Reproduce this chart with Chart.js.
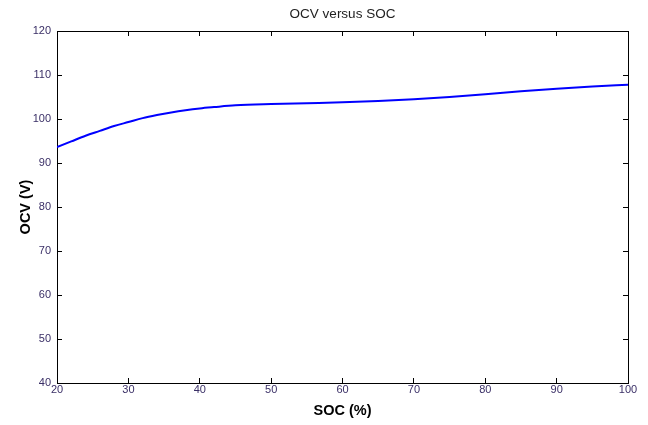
<!DOCTYPE html>
<html>
<head>
<meta charset="utf-8">
<script src="https://cdn.jsdelivr.net/npm/chart.js@4"></script>
<style>
  html, body { margin: 0; padding: 0; background: #fff; }
  #wrap { width: 648px; height: 425px; }
</style>
</head>
<body>
<div id="wrap"><canvas id="ocvChart" width="648" height="425"></canvas></div>
<script>
// state of charge (%) and open circuit voltage (V)
const soc = [20, 22, 24, 26, 28, 30, 32, 34, 36, 38, 40, 42, 45, 50, 55, 60, 65, 70, 75, 80, 85, 90, 95, 100];
const ocv = [93.6, 94.9, 96.2, 97.3, 98.4, 99.3, 100.2, 100.9, 101.5, 102.0, 102.4, 102.7, 103.1, 103.4, 103.6, 103.8, 104.1, 104.5, 105.0, 105.6, 106.3, 106.9, 107.4, 107.8];

const socRange = [20, 100];
const ocvRange = [40, 120];

const tickFont = { family: '"Liberation Sans Narrow", "Liberation Sans", Arial, sans-serif', size: 11 };
const tickColor = '#3a2f66';

// tick marks pointing into the plot, no grid lines
function boxGrid() {
    return { drawOnChartArea: false, drawTicks: true, tickLength: -5, color: '#000', lineWidth: 1 };
}
function fixSize(key, px) {
    return function (scale) { scale[key] = px; };
}

const points = soc.map((s, i) => ({ x: s, y: ocv[i] }));

new Chart(document.getElementById('ocvChart'), {
    type: 'line',
    data: {
        datasets: [{
            data: points,
            borderColor: '#0000ff',
            borderWidth: 2,
            pointRadius: 0,
            cubicInterpolationMode: 'monotone',
            fill: false
        }]
    },
    options: {
        responsive: false,
        animation: false,
        layout: { padding: 0 },
        plugins: {
            legend: { display: false },
            tooltip: { enabled: false },
            title: { display: false }
        },
        scales: {
            x: {
                type: 'linear',
                position: 'bottom',
                min: socRange[0], max: socRange[1],
                ticks: { stepSize: 10, font: tickFont, color: tickColor, padding: 5, maxRotation: 0 },
                grid: boxGrid(),
                border: { display: true, color: '#000', width: 1 },
                title: {
                    display: true, text: 'SOC (%)', color: '#000',
                    font: { family: '"Liberation Sans", Arial, sans-serif', size: 14.5, weight: 'bold' },
                    padding: { top: 5, bottom: 5 }
                },
                afterFit: fixSize('height', 42)
            },
            x2: {
                type: 'linear',
                position: 'top',
                min: socRange[0], max: socRange[1],
                ticks: { stepSize: 10, display: false },
                grid: boxGrid(),
                border: { display: true, color: '#000', width: 1 },
                title: {
                    display: true, text: 'OCV versus SOC', color: '#222',
                    font: { family: '"Liberation Sans Narrow", "Liberation Sans", Arial, sans-serif', size: 13.5 },
                    padding: { top: 6, bottom: 5 }
                },
                afterFit: fixSize('height', 31)
            },
            y: {
                type: 'linear',
                position: 'left',
                min: ocvRange[0], max: ocvRange[1],
                ticks: { stepSize: 10, font: tickFont, color: tickColor, padding: 11 },
                grid: boxGrid(),
                border: { display: true, color: '#000', width: 1 },
                title: {
                    display: true, text: 'OCV (V)', color: '#000',
                    font: { family: '"Liberation Sans", Arial, sans-serif', size: 14.5, weight: 'bold' },
                    padding: { top: 17, bottom: 0 }
                },
                afterFit: fixSize('width', 57)
            },
            y2: {
                type: 'linear',
                position: 'right',
                min: ocvRange[0], max: ocvRange[1],
                ticks: { stepSize: 10, display: false },
                grid: boxGrid(),
                border: { display: true, color: '#000', width: 1 },
                afterFit: fixSize('width', 20)
            }
        }
    }
});
</script>
</body>
</html>
